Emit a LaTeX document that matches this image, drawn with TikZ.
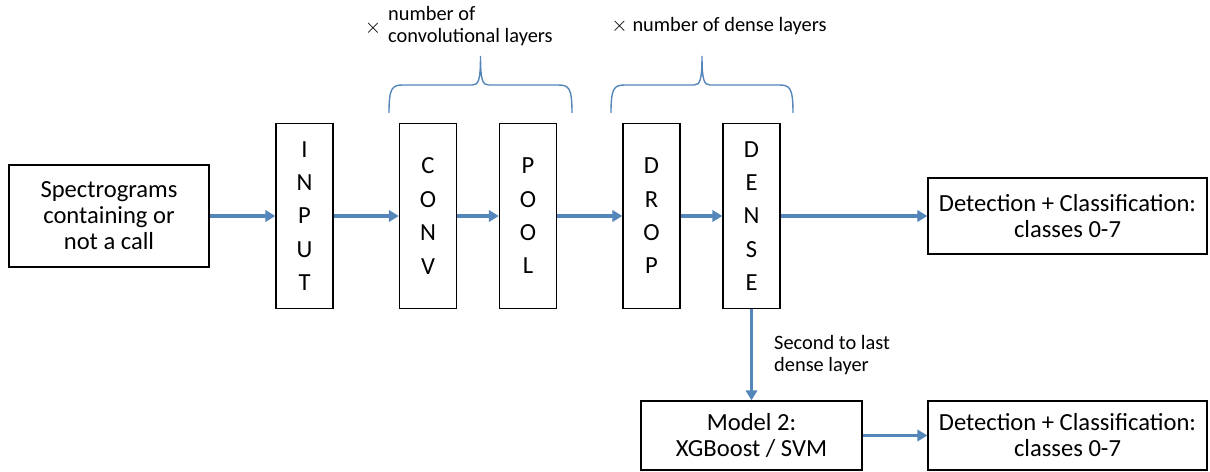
\documentclass[tikz,border=0pt]{standalone}
\usepackage{fontspec}
\setmainfont{Carlito}
\usetikzlibrary{arrows.meta}
\definecolor{flowblue}{RGB}{84,134,186}

\begin{document}
\begin{tikzpicture}[x=0.02cm,y=-0.02cm,
    box/.style={draw,line width=0.8pt,align=center,font=\fontsize{14}{14.8}\selectfont},
    layer/.style={box,minimum width=1.14cm,minimum height=3.7cm,font=\fontsize{14}{19}\selectfont},
    flow/.style={flowblue,line width=2pt,-{Triangle[length=5.6pt,width=6.4pt]}},
    brace/.style={flowblue,line width=0.8pt},
    note/.style={font=\fontsize{11.6}{12.8}\selectfont,align=left}]
\useasboundingbox (0,0) rectangle (1210,472);

% input data
\node[box,minimum width=4cm,minimum height=2.04cm] (spec) at (109,216)
    {Spectrograms\\containing or\\not a call};

% network layers
\node[layer] (input) at (304.5,216) {I\\N\\P\\U\\T};
\node[layer] (conv) at (428,216) {C\\O\\N\\V};
\node[layer] (pool) at (528,216) {P\\O\\O\\L};
\node[layer] (drop) at (651.5,216) {D\\R\\O\\P};
\node[layer] (dense) at (751.5,216) {D\\E\\N\\S\\E};

% outputs
\node[box,minimum width=5.58cm,minimum height=1.52cm] (det1) at (1067.5,216)
    {Detection + Classification:\\classes 0-7};
\node[box,minimum width=4.42cm,minimum height=1.38cm] (model2) at (751.5,435.5)
    {Model 2:\\XGBoost / SVM};
\node[box,minimum width=5.58cm,minimum height=1.38cm] (det2) at (1067.5,435.5)
    {Detection + Classification:\\classes 0-7};

% arrows
\foreach \a/\b in {spec/input,input/conv,conv/pool,pool/drop,drop/dense,dense/det1,model2/det2} {
    \draw[flow] (\a) -- (\b);
}
\draw[flow] (dense) -- (model2);
\node[note,anchor=west] (feat) at (768,355) {Second to last\\dense layer};

% braces
\foreach \l/\r in {389/572,611/793} {
    \pgfmathsetmacro{\m}{(\l+\r)/2}
    \draw[brace] (\l,113) .. controls (\l,88) and (\l+3,85) .. (\l+14,85)
        -- (\m-8,85) .. controls (\m-2,85) and (\m,80) .. (\m,56)
        .. controls (\m,80) and (\m+2,85) .. (\m+8,85)
        -- (\r-14,85) .. controls (\r-3,85) and (\r,88) .. (\r,113);
}
\node[note,font=\fontsize{13}{14}\selectfont] (times) at (373,28) {$\times$};
\node[note,anchor=west] (nconv) at (382,26) {number of\\convolutional layers};
\node[note] (ndense) at (719,26) {$\times$ number of dense layers};
\end{tikzpicture}
\end{document}
